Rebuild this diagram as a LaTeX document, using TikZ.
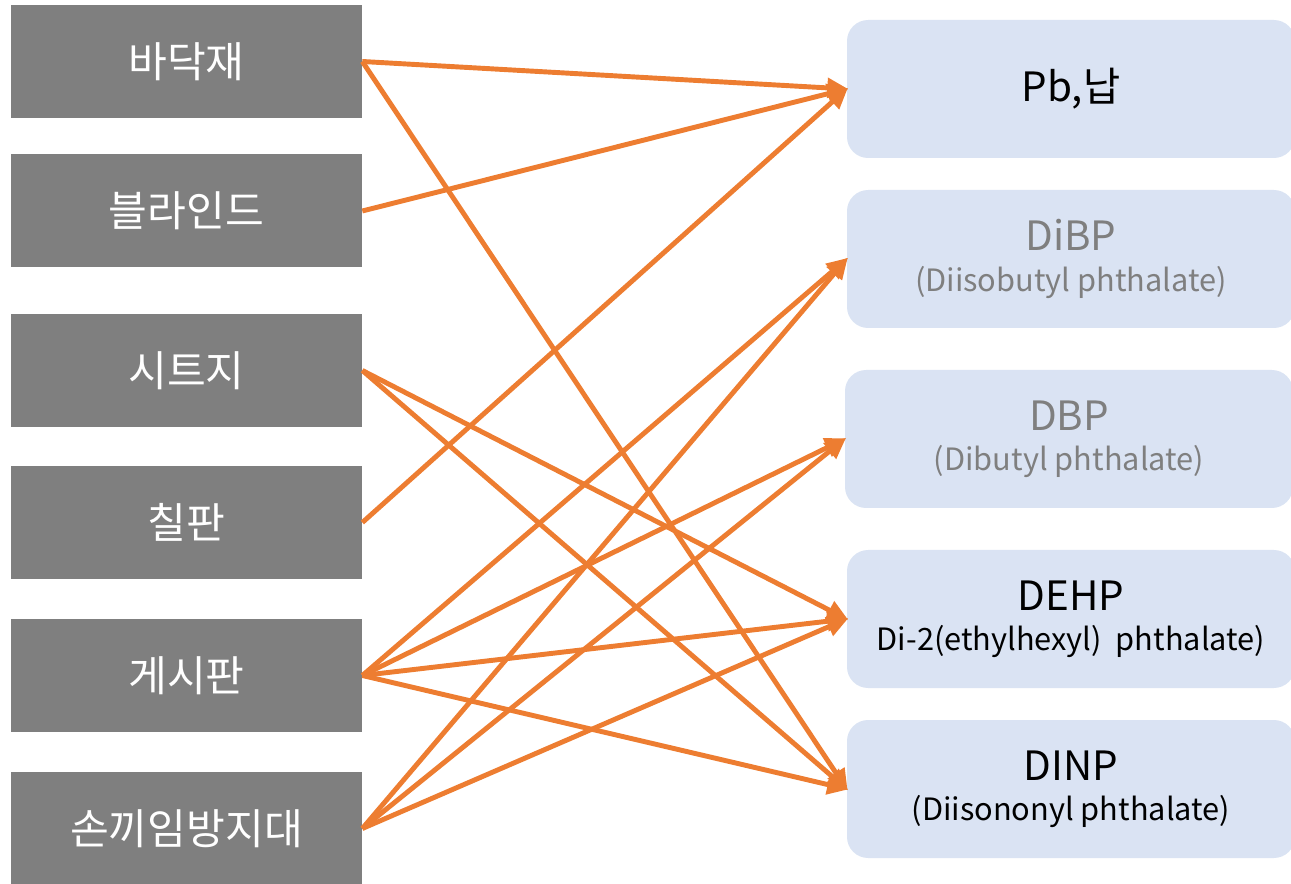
\documentclass[tikz,border=0pt]{standalone}
\usepackage{fontspec}
\setmainfont{Noto Sans CJK KR}
\usetikzlibrary{arrows.meta}

\definecolor{matgray}{HTML}{7F7F7F}
\definecolor{subblue}{HTML}{DAE3F3}
\definecolor{linkorange}{HTML}{ED7D31}
\definecolor{subgray}{HTML}{7F7F7F}

\newcommand{\bigtxt}{\fontsize{23}{28}\selectfont}
\newcommand{\smalltxt}{\fontsize{17.5}{23}\selectfont}

\tikzset{
  material/.style={fill=matgray, text=white, minimum width=351*0.02cm, minimum height=113*0.02cm,
    inner sep=0pt, font=\fontsize{24}{28}\selectfont},
  substance/.style={fill=subblue, rounded corners=12pt, minimum width=448*0.02cm, minimum height=138*0.02cm,
    inner sep=0pt, align=center, font=\smalltxt},
  link/.style={draw=linkorange, line width=2.8pt, -{Triangle[length=12pt,width=11pt]}, shorten >=-1pt}
}

\begin{document}
\begin{tikzpicture}[x=0.02cm, y=-0.02cm]
  \useasboundingbox (0,0) rectangle (1291,884);
  \clip (0,0) rectangle (1291,884);

  % Materials
  \node[material] (floor)   at (186.5,61.5)  {바닥재};
  \node[material] (blind)   at (186.5,211)   {블라인드};
  \node[material] (sheet)   at (186.5,370.5) {시트지};
  \node[material] (board)   at (186.5,522.5) {칠판};
  \node[material] (notice)  at (186.5,675.5) {게시판};
  \node[material] (guard)   at (186.5,828.5) {손끼임방지대};

  % Substances
  \node[substance] (pb)   at (1071,89)  {{\bigtxt Pb,납}};
  \node[substance, text=subgray] (dibp) at (1071,259)
    {{\bigtxt DiBP}\\(Diisobutyl phthalate)};
  \node[substance, text=subgray] (dbp)  at (1069,439)
    {{\bigtxt DBP}\\(Dibutyl phthalate)};
  \node[substance] (dehp) at (1071,619)
    {{\bigtxt DEHP}\\Di-2(ethylhexyl)~~phthalate)};
  \node[substance] (dinp) at (1071,789)
    {{\bigtxt DINP}\\(Diisononyl phthalate)};

  % Links
  \draw[link] (floor.east) -- (pb.west);
  \draw[link] (floor.east) -- (dinp.west);
  \draw[link] (blind.east) -- (pb.west);
  \draw[link] (sheet.east) -- (dehp.west);
  \draw[link] (sheet.east) -- (dinp.west);
  \draw[link] (board.east) -- (pb.west);
  \foreach \t in {dibp,dbp,dehp,dinp}
    \draw[link] (notice.east) -- (\t.west);
  \foreach \t in {dibp,dbp,dehp}
    \draw[link] (guard.east) -- (\t.west);
\end{tikzpicture}
\end{document}
